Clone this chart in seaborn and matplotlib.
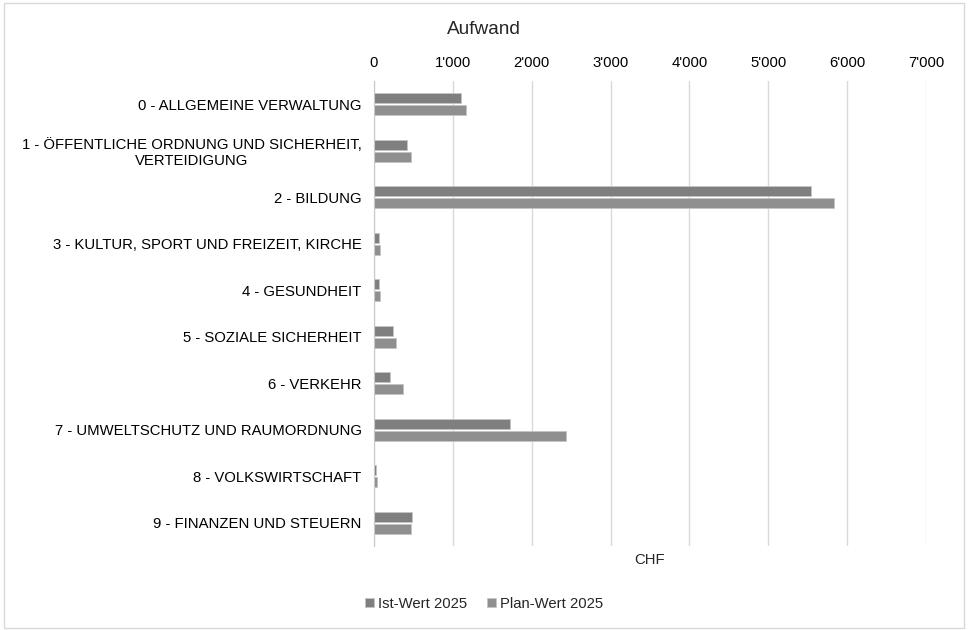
import pandas as pd
import matplotlib.pyplot as plt
import seaborn as sns
from matplotlib.patches import Rectangle
from matplotlib.ticker import FuncFormatter

# Daten
categories = [
    "0 - ALLGEMEINE VERWALTUNG",
    "1 - ÖFFENTLICHE ORDNUNG UND SICHERHEIT,\nVERTEIDIGUNG",
    "2 - BILDUNG",
    "3 - KULTUR, SPORT UND FREIZEIT, KIRCHE",
    "4 - GESUNDHEIT",
    "5 - SOZIALE SICHERHEIT",
    "6 - VERKEHR",
    "7 - UMWELTSCHUTZ UND RAUMORDNUNG",
    "8 - VOLKSWIRTSCHAFT",
    "9 - FINANZEN UND STEUERN",
]
ist_wert = [1102, 415, 5544, 67, 67, 237, 203, 1720, 30, 479]
plan_wert = [1160, 474, 5835, 72, 80, 284, 368, 2436, 38, 466]
series = ["Ist-Wert 2025", "Plan-Wert 2025"]
x_ticks = [0, 1000, 2000, 3000, 4000, 5000, 6000, 7000]

df = pd.DataFrame({
    "Kategorie": categories * 2,
    "Wert": ist_wert + plan_wert,
    "Serie": [series[0]] * len(categories) + [series[1]] * len(categories),
})

sns.set_style("white")
plt.rcParams["font.family"] = ["Liberation Sans", "DejaVu Sans"]
fs = 10.7

fig = plt.figure(figsize=(9.68, 6.3), dpi=100)
ax = fig.add_axes([0.3864, 0.1333, 0.5702, 0.7381])

sns.barplot(data=df, y="Kategorie", x="Wert", hue="Serie", orient="h",
            palette=["#7f7f7f", "#8f8f8f"], width=0.5, gap=0.14,
            edgecolor="#c4c4c4", linewidth=0.6, ax=ax, legend=True)

ax.set_xlim(0, 7000)
ax.set_xticks(x_ticks)
ax.xaxis.set_major_formatter(FuncFormatter(lambda v, p: f"{int(v):,}".replace(",", "'")))
ax.xaxis.tick_top()
ax.tick_params(axis="both", length=0, labelsize=fs, colors="#000000")
ax.tick_params(axis="x", pad=8)
ax.tick_params(axis="y", pad=9)
for lbl in ax.get_yticklabels():
    lbl.set_multialignment("center")

ax.grid(axis="x", color="#d9d9d9", linewidth=1)
ax.set_axisbelow(True)
for s in ["top", "right", "bottom"]:
    ax.spines[s].set_visible(False)
ax.spines["left"].set_color("#c8c8c8")
ax.set_ylabel("")
ax.set_xlabel("")

# Achsentitel unten
fig.text(0.6715, 1 - 560 / 630, "CHF", ha="center", va="center", fontsize=fs)
# Titel
fig.text(0.5, 1 - 30 / 630, "Aufwand", ha="center", va="center", fontsize=13.7)

# Legende
handles, labels = ax.get_legend_handles_labels()
ax.legend_.remove()
fig.legend(handles, labels, loc="center", bbox_to_anchor=(0.5, 1 - 604 / 630),
           ncol=2, frameon=False, fontsize=fs, handlelength=0.6, handleheight=0.6,
           handletextpad=0.3, columnspacing=1.3)

# Rahmen um das Diagramm
fig.patches.append(Rectangle((0.004, 0.003), 0.992, 0.992, transform=fig.transFigure,
                             fill=False, edgecolor="#d9d9d9", linewidth=1))

plt.savefig("out.png", dpi=100)
